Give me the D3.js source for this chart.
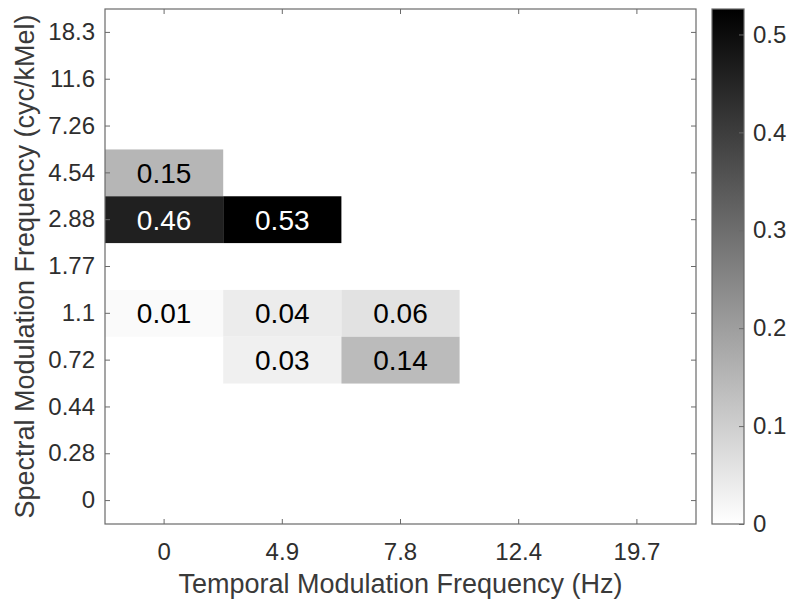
<!DOCTYPE html>
<html lang="en">
<head>
  <meta charset="UTF-8">
  <title>Modulation Frequency Heatmap</title>
  <script src="https://d3js.org/d3.v7.min.js"></script>
  <style>
    body {
      margin: 0;
      background: #fff;
      font-family: "Liberation Sans", Arial, sans-serif;
    }
  </style>
</head>
<body>
<div id="chart"></div>

<script>
  // Categories (x: temporal, y: spectral from bottom to top)
  const temporalFreqs = ["0", "4.9", "7.8", "12.4", "19.7"];
  const spectralFreqs = ["0", "0.28", "0.44", "0.72", "1.1", "1.77", "2.88", "4.54", "7.26", "11.6", "18.3"];

  // Non-empty cells only
  const cellTemporal = ["0", "0", "4.9", "0", "4.9", "7.8", "4.9", "7.8"];
  const cellSpectral = ["4.54", "2.88", "2.88", "1.1", "1.1", "1.1", "0.72", "0.72"];
  const cellValues = [0.15, 0.46, 0.53, 0.01, 0.04, 0.06, 0.03, 0.14];

  const colorMax = 0.526;
  const colorTicks = [0, 0.1, 0.2, 0.3, 0.4, 0.5];

  const width = 789;
  const height = 608;
  const margin = { top: 9, right: 93, bottom: 84, left: 105 };
  const plotW = width - margin.left - margin.right;
  const plotH = height - margin.top - margin.bottom;
  const axisColor = "#6a6a6a";
  const textColor = "#2e2e2e";
  const tickLen = 5;
  const tickFont = 24;

  const cells = cellValues.map((v, i) => ({ t: cellTemporal[i], s: cellSpectral[i], v: v }));

  const x = d3.scaleBand().domain(temporalFreqs).range([margin.left, margin.left + plotW]);
  const y = d3.scaleBand().domain(spectralFreqs).range([margin.top + plotH, margin.top]);
  const color = d3.scaleLinear().domain([0, colorMax]).range(["#ffffff", "#000000"]);

  const svg = d3.select("#chart")
    .append("svg")
    .attr("width", width)
    .attr("height", height)
    .style("display", "block");

  // heatmap cells
  svg.append("g")
    .selectAll("rect")
    .data(cells)
    .join("rect")
    .attr("x", d => x(d.t))
    .attr("y", d => y(d.s))
    .attr("width", x.bandwidth())
    .attr("height", y.bandwidth())
    .attr("fill", d => color(d.v));

  svg.append("g")
    .selectAll("text")
    .data(cells)
    .join("text")
    .attr("x", d => x(d.t) + x.bandwidth() / 2)
    .attr("y", d => y(d.s) + y.bandwidth() / 2)
    .attr("dy", "0.36em")
    .attr("text-anchor", "middle")
    .attr("font-size", 28)
    .attr("fill", d => d.v > 0.3 ? "#fff" : "#000")
    .text(d => d3.format(".2f")(d.v));

  // axes with inward ticks on all four sides
  function styleAxis(g) {
    g.attr("font-size", tickFont).attr("font-family", "Liberation Sans, Arial, sans-serif");
    g.select(".domain").remove();
    g.selectAll(".tick line").attr("stroke", axisColor);
    g.selectAll(".tick text").attr("fill", textColor);
  }

  svg.append("g")
    .attr("transform", `translate(0,${margin.top + plotH})`)
    .call(d3.axisBottom(x).tickSizeInner(-tickLen).tickSizeOuter(0).tickPadding(19))
    .call(styleAxis);

  svg.append("g")
    .attr("transform", `translate(0,${margin.top})`)
    .call(d3.axisTop(x).tickSizeInner(-tickLen).tickSizeOuter(0).tickFormat(""))
    .call(styleAxis);

  svg.append("g")
    .attr("transform", `translate(${margin.left},0)`)
    .call(d3.axisLeft(y).tickSizeInner(-tickLen).tickSizeOuter(0).tickPadding(10))
    .call(styleAxis);

  svg.append("g")
    .attr("transform", `translate(${margin.left + plotW},0)`)
    .call(d3.axisRight(y).tickSizeInner(-tickLen).tickSizeOuter(0).tickFormat(""))
    .call(styleAxis);

  svg.append("rect")
    .attr("x", margin.left)
    .attr("y", margin.top)
    .attr("width", plotW)
    .attr("height", plotH)
    .attr("fill", "none")
    .attr("stroke", axisColor)
    .attr("stroke-width", 1.2);

  // axis titles
  svg.append("text")
    .attr("x", margin.left + plotW / 2)
    .attr("y", 593)
    .attr("text-anchor", "middle")
    .attr("font-size", 27)
    .attr("fill", "#3a3a3a")
    .text("Temporal Modulation Frequency (Hz)");

  svg.append("text")
    .attr("transform", `translate(34,${margin.top + plotH / 2}) rotate(-90)`)
    .attr("text-anchor", "middle")
    .attr("font-size", 27)
    .attr("fill", "#3a3a3a")
    .text("Spectral Modulation Frequency (cyc/kMel)");

  // colorbar
  const cbX = 712;
  const cbW = 32;
  const cbScale = d3.scaleLinear().domain([0, colorMax]).range([margin.top + plotH, margin.top]);

  const defs = svg.append("defs");
  const grad = defs.append("linearGradient")
    .attr("id", "cbGrad")
    .attr("x1", 0).attr("y1", 1)
    .attr("x2", 0).attr("y2", 0);
  grad.append("stop").attr("offset", "0%").attr("stop-color", color(0));
  grad.append("stop").attr("offset", "100%").attr("stop-color", color(colorMax));

  svg.append("rect")
    .attr("x", cbX)
    .attr("y", margin.top)
    .attr("width", cbW)
    .attr("height", plotH)
    .attr("fill", "url(#cbGrad)")
    .attr("stroke", axisColor)
    .attr("stroke-width", 1.2);

  svg.append("g")
    .attr("transform", `translate(${cbX + cbW},0)`)
    .call(d3.axisRight(cbScale).tickValues(colorTicks).tickFormat(d3.format("")).tickSizeInner(-tickLen).tickSizeOuter(0).tickPadding(9))
    .call(styleAxis);
</script>
</body>
</html>
